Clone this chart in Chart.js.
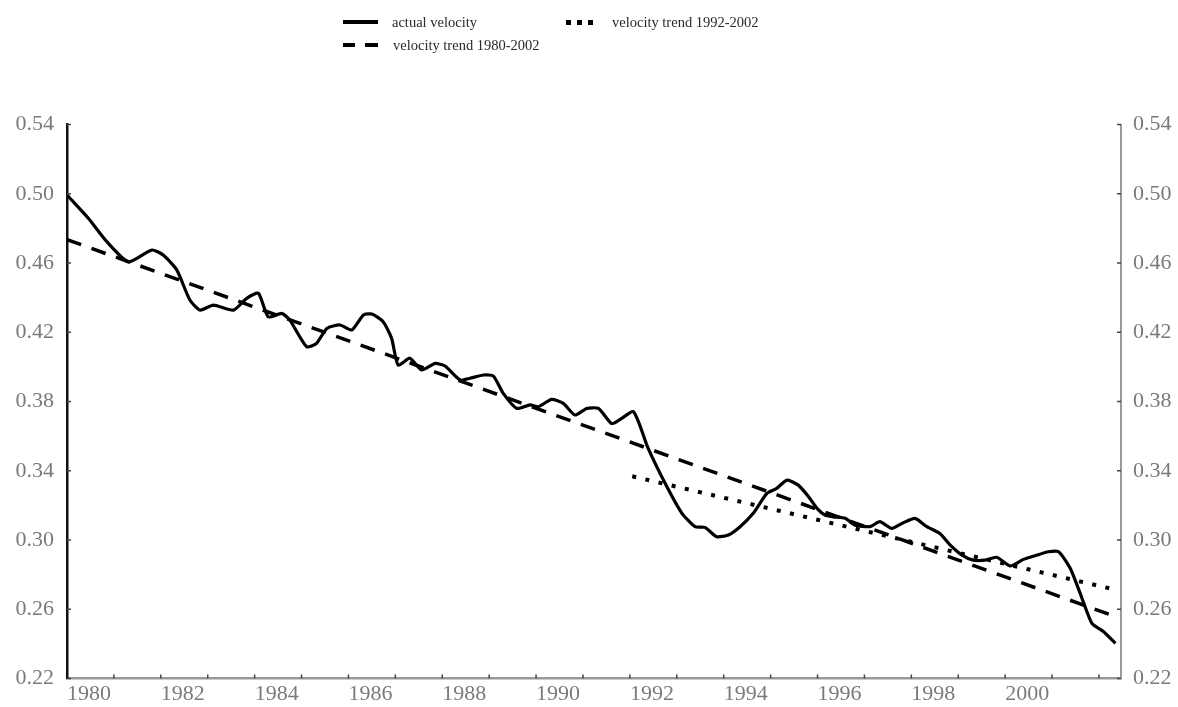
<!DOCTYPE html>
<html>
<head>
<meta charset="utf-8">
<script src="https://cdn.jsdelivr.net/npm/chart.js@4/dist/chart.umd.min.js"></script>
<style>
  html, body { margin: 0; padding: 0; background: #fff; }
  #wrap { position: relative; width: 1178px; height: 707px; }
  #legend { position: absolute; left: 0; top: 0; width: 1178px; height: 60px;
            font-family: "Liberation Serif", "Times New Roman", serif; font-size: 14.5px; color: #2a2a2a; }
  .item { position: absolute; white-space: nowrap; line-height: 16px; }
  .sw { position: absolute; background: #000; }
</style>
</head>
<body>
<div id="wrap">
  <canvas id="c" width="1178" height="707"></canvas>
  <div id="legend">
    <div class="sw" style="left:343px;top:20px;width:35px;height:4px;"></div>
    <div class="item" style="left:392px;top:14px;">actual velocity</div>

    <div class="sw" style="left:343px;top:43px;width:12px;height:4px;"></div>
    <div class="sw" style="left:365px;top:43px;width:13px;height:4px;"></div>
    <div class="item" style="left:393px;top:37px;">velocity trend 1980-2002</div>

    <div class="sw" style="left:566px;top:20px;width:5px;height:5px;"></div>
    <div class="sw" style="left:577px;top:20px;width:5px;height:5px;"></div>
    <div class="sw" style="left:588px;top:20px;width:5px;height:5px;"></div>
    <div class="item" style="left:612px;top:14px;">velocity trend 1992-2002</div>
  </div>
</div>
<script>
// ---- Data ----
const actualYears = [
  1980.00, 1980.45, 1980.85, 1981.31, 1981.81, 1982.05, 1982.34, 1982.62, 1982.84, 1983.12,
  1983.55, 1983.83, 1984.08, 1984.29, 1984.58, 1984.75, 1985.11, 1985.32, 1985.54, 1985.82,
  1986.07, 1986.32, 1986.50, 1986.74, 1986.92, 1987.06, 1987.31, 1987.56, 1987.85, 1988.06,
  1988.38, 1988.59, 1988.88, 1989.09, 1989.30, 1989.59, 1989.87, 1990.05, 1990.33, 1990.58,
  1990.83, 1991.08, 1991.33, 1991.61, 1991.79, 1992.08, 1992.39, 1992.79, 1993.11, 1993.39,
  1993.60, 1993.85, 1994.10, 1994.35, 1994.63, 1994.92, 1995.13, 1995.35, 1995.59, 1995.81,
  1995.99, 1996.16, 1996.34, 1996.59, 1996.80, 1997.12, 1997.33, 1997.58, 1997.83, 1998.08,
  1998.33, 1998.61, 1998.83, 1999.08, 1999.32, 1999.57, 1999.82, 2000.11, 2000.39, 2000.68,
  2000.92, 2001.14, 2001.39, 2001.60, 2001.85, 2002.10, 2002.35
];
const actualVelocity = [
  0.4993, 0.4860, 0.4723, 0.4607, 0.4675, 0.4646, 0.4560, 0.4386, 0.4328, 0.4357,
  0.4328, 0.4396, 0.4425, 0.4289, 0.4309, 0.4270, 0.4116, 0.4136, 0.4222, 0.4242,
  0.4213, 0.4300, 0.4305, 0.4261, 0.4165, 0.4010, 0.4050, 0.3982, 0.4020, 0.4005,
  0.3924, 0.3934, 0.3953, 0.3947, 0.3847, 0.3760, 0.3780, 0.3770, 0.3812, 0.3789,
  0.3722, 0.3760, 0.3760, 0.3673, 0.3696, 0.3740, 0.3529, 0.3307, 0.3154, 0.3077,
  0.3073, 0.3019, 0.3029, 0.3077, 0.3154, 0.3269, 0.3298, 0.3346, 0.3317, 0.3250,
  0.3183, 0.3144, 0.3134, 0.3125, 0.3086, 0.3077, 0.3106, 0.3067, 0.3100, 0.3125,
  0.3077, 0.3038, 0.2971, 0.2913, 0.2884, 0.2884, 0.2900, 0.2850, 0.2888, 0.2913,
  0.2932, 0.2932, 0.2836, 0.2692, 0.2518, 0.2470, 0.2403
];
const trend8002Years = [1980.00, 2002.35];
const trend8002Values = [0.4735, 0.2558];
const trend9202Years = [1992.05, 2002.30];
const trend9202Values = [0.3368, 0.2716];

const yTicks = [0.22, 0.26, 0.30, 0.34, 0.38, 0.42, 0.46, 0.50, 0.54];
const xLabelYears = [1980, 1982, 1984, 1986, 1988, 1990, 1992, 1994, 1996, 1998, 2000];

const pts = (xs, ys) => xs.map((x, i) => ({ x: x, y: ys[i] }));

const inwardTicks = {
  id: 'inwardTicks',
  afterDraw(chart) {
    const ctx = chart.ctx, a = chart.chartArea;
    ctx.save();
    ctx.strokeStyle = '#444';
    ctx.lineWidth = 1.5;
    const sx = chart.scales.x;
    sx.ticks.forEach(t => {
      const p = sx.getPixelForValue(t.value);
      if (p <= a.left + 1) return;
      ctx.beginPath(); ctx.moveTo(p, a.bottom); ctx.lineTo(p, a.bottom - 4); ctx.stroke();
    });
    const sy = chart.scales.y;
    sy.ticks.forEach(t => {
      const p = sy.getPixelForValue(t.value);
      ctx.beginPath(); ctx.moveTo(a.left, p); ctx.lineTo(a.left + 4, p); ctx.stroke();
      ctx.beginPath(); ctx.moveTo(a.right, p); ctx.lineTo(a.right - 4, p); ctx.stroke();
    });
    ctx.restore();
  }
};

const labelFont = { family: '"Liberation Serif", "Times New Roman", serif', size: 22 };

new Chart(document.getElementById('c'), {
  type: 'scatter',
  data: {
    datasets: [
      { label: 'actual velocity', data: pts(actualYears, actualVelocity), showLine: true,
        borderColor: '#000', borderWidth: 3.2, pointRadius: 0, tension: 0.2, yAxisID: 'y' },
      { label: 'velocity trend 1980-2002', data: pts(trend8002Years, trend8002Values), showLine: true,
        borderColor: '#000', borderWidth: 3.5, borderDash: [15, 11], pointRadius: 0, yAxisID: 'y' },
      { label: 'velocity trend 1992-2002', data: pts(trend9202Years, trend9202Values), showLine: true,
        borderColor: '#000', borderWidth: 4, borderDash: [4, 9.5], pointRadius: 0, yAxisID: 'y' }
    ]
  },
  options: {
    responsive: false,
    animation: false,
    layout: { padding: { top: 124.5, left: 0, right: 0, bottom: 0 } },
    plugins: { legend: { display: false }, tooltip: { enabled: false } },
    scales: {
      x: {
        type: 'linear', min: 1980, max: 2002.47,
        afterBuildTicks(s) { s.ticks = []; for (let yr = 1980; yr <= 2002; yr++) s.ticks.push({ value: yr }); },
        afterFit(s) { s.height = 28.5; },
        grid: { display: false, drawTicks: false },
        border: { display: true, color: '#999', width: 2.5 },
        ticks: {
          autoSkip: false, maxRotation: 0, minRotation: 0, align: 'start', padding: 3,
          color: '#7a7a7a', font: labelFont,
          callback: (v) => xLabelYears.includes(v) ? String(v) : ''
        }
      },
      y: {
        position: 'left', min: 0.22, max: 0.54,
        afterBuildTicks(s) { s.ticks = yTicks.map(v => ({ value: v })); },
        afterFit(s) { s.width = 67; },
        grid: { display: false, drawTicks: false },
        border: { display: true, color: '#111', width: 2.5 },
        ticks: { color: '#7a7a7a', font: labelFont, padding: 13, callback: (v) => Number(v).toFixed(2) }
      },
      y2: {
        position: 'right', min: 0.22, max: 0.54,
        afterBuildTicks(s) { s.ticks = yTicks.map(v => ({ value: v })); },
        afterFit(s) { s.width = 57; },
        grid: { display: false, drawTicks: false },
        border: { display: true, color: '#999', width: 2 },
        ticks: { color: '#7a7a7a', font: labelFont, padding: 12, callback: (v) => Number(v).toFixed(2) }
      }
    }
  },
  plugins: [inwardTicks]
});
</script>
</body>
</html>
